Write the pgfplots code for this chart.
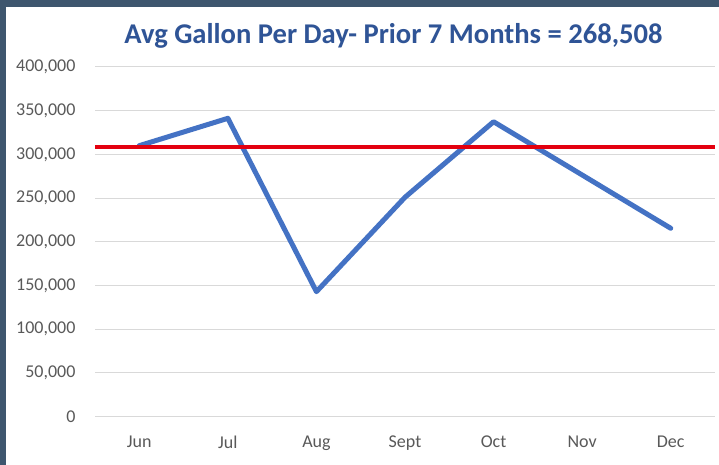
\documentclass[border=0pt]{standalone}
\usepackage{pgfplots}
\pgfplotsset{compat=1.18}
\usepackage{fontspec}
\setmainfont{Carlito}
\definecolor{frame}{HTML}{3E566E}
\definecolor{titleblue}{HTML}{2F5496}
\definecolor{lineblue}{HTML}{4472C4}
\definecolor{refred}{HTML}{E3000F}
\definecolor{gridgray}{HTML}{D9D9D9}
\definecolor{labgray}{HTML}{595959}
\begin{document}
\begin{tikzpicture}
\fill[frame] (0,0) rectangle (719pt,465pt);
\fill[white] (6pt,0) rectangle (719pt,458pt);
\begin{axis}[
  at={(95pt,48.3pt)}, anchor=south west,
  scale only axis, width=620pt, height=349.7pt,
  xmin=-0.5, xmax=6.5, ymin=0, ymax=400000,
  axis line style={draw=none},
  ymajorgrids, grid style={gridgray, line width=1pt},
  xtick={0,...,6}, xticklabels={Jun,Jul,Aug,Sept,Oct,Nov,Dec},
  ytick={0,50000,...,400000},
  scaled y ticks=false,
  /pgf/number format/.cd, fixed, 1000 sep={,}, assume math mode=true,
  /pgfplots/.cd,
  ticklabel style={font=\fontsize{18}{18}\selectfont, text=labgray},
  yticklabel style={xshift=-16pt},
  xticklabel style={yshift=-16pt},
  major tick length=0pt,
  clip=false,
]
\addplot[lineblue, line width=5pt, line join=round, line cap=round] coordinates {
(0,310000) (1,341300) (2,143000) (3,251000) (4,337400) (5,276500) (6,215500)};
\addplot[refred, line width=4pt] coordinates {(-0.5,308200) (6.5,308200)};
\end{axis}
\node[text=titleblue, font=\bfseries\fontsize{28.6}{28.6}\selectfont] at (393.5pt,429pt) {Avg Gallon Per Day- Prior 7 Months = 268,508};
\end{tikzpicture}
\end{document}
